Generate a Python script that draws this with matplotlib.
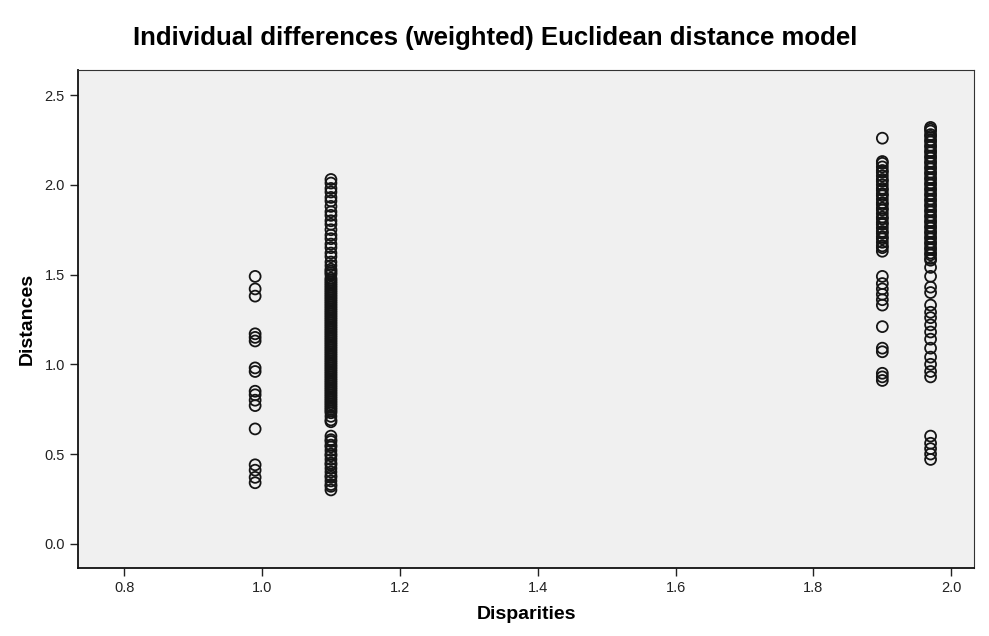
import matplotlib
matplotlib.use("Agg")
import matplotlib.pyplot as plt

plt.rcParams['font.family'] = ['Liberation Sans', 'DejaVu Sans']

# Disparity levels and the distances observed at each level
disp_a = 0.99
dist_a = [1.49, 1.42, 1.38, 1.17, 1.15, 1.13, 0.98, 0.96, 0.85, 0.83, 0.80,
          0.77, 0.64, 0.44, 0.41, 0.37, 0.34]

disp_b = 1.10
dist_b = [2.03, 2.01, 1.98, 1.96, 1.93, 1.91, 1.88, 1.85, 1.83, 1.80, 1.78,
          1.75, 1.72, 1.70, 1.67, 1.65, 1.62, 1.60, 1.57, 1.55, 1.53, 1.52,
          1.51, 1.50, 1.48, 1.47, 1.46, 1.45, 1.44, 1.43, 1.42, 1.41, 1.40,
          1.39, 1.38, 1.37, 1.36, 1.35, 1.34, 1.33, 1.32, 1.31, 1.30, 1.29,
          1.28, 1.27, 1.26, 1.25, 1.24, 1.23, 1.22, 1.21, 1.20, 1.19, 1.18,
          1.17, 1.16, 1.15, 1.14, 1.13, 1.12, 1.11, 1.10, 1.09, 1.08, 1.07,
          1.06, 1.05, 1.04, 1.03, 1.02, 1.01, 1.00, 0.99, 0.98, 0.97, 0.96,
          0.95, 0.94, 0.93, 0.92, 0.91, 0.90, 0.89, 0.88, 0.87, 0.86, 0.85,
          0.84, 0.83, 0.82, 0.81, 0.80, 0.79, 0.78, 0.77, 0.76, 0.75, 0.74,
          0.73, 0.71, 0.69, 0.68,
          0.60, 0.58, 0.57, 0.55, 0.54, 0.52, 0.50, 0.49, 0.47, 0.45, 0.44,
          0.42, 0.40, 0.38, 0.37, 0.35, 0.33, 0.32, 0.30]

disp_c = 1.90
dist_c = [2.26, 2.13, 2.12, 2.10, 2.08, 2.07, 2.05, 2.03, 2.02, 2.00, 1.98,
          1.97, 1.95, 1.94, 1.92, 1.90, 1.89, 1.87, 1.86, 1.84, 1.82, 1.81,
          1.79, 1.78, 1.76, 1.74, 1.73, 1.71, 1.70, 1.68, 1.66, 1.65, 1.63,
          1.49, 1.45, 1.42, 1.39, 1.36, 1.33, 1.21, 1.09, 1.07, 0.95, 0.93,
          0.91]

disp_d = 1.97
dist_d = [2.32, 2.31, 2.30, 2.28, 2.27, 2.25, 2.24, 2.22, 2.21, 2.19, 2.18,
          2.16, 2.15, 2.13, 2.12, 2.10, 2.09, 2.07, 2.06, 2.04, 2.03, 2.01,
          2.00, 1.98, 1.97, 1.95, 1.94, 1.92, 1.91, 1.89, 1.88, 1.86, 1.85,
          1.83, 1.82, 1.80, 1.79, 1.77, 1.76, 1.74, 1.73, 1.71, 1.70, 1.68,
          1.67, 1.65, 1.64, 1.62, 1.61, 1.59, 1.58, 1.54, 1.49, 1.43, 1.40,
          1.33, 1.29, 1.26, 1.22, 1.18, 1.14, 1.09, 1.04, 1.00, 0.96, 0.93,
          0.60, 0.56, 0.53, 0.50, 0.47]

x_ticks = [0.8, 1.0, 1.2, 1.4, 1.6, 1.8, 2.0]
y_ticks = [0.0, 0.5, 1.0, 1.5, 2.0, 2.5]

fig = plt.figure(figsize=(9.89, 6.36), dpi=100)
ax = fig.add_axes([78 / 989, 1 - 568 / 636, (974 - 78) / 989, (568 - 70) / 636])
ax.set_facecolor('#f0f0f0')

for xv, ys in [(disp_a, dist_a), (disp_b, dist_b), (disp_c, dist_c), (disp_d, dist_d)]:
    ax.scatter([xv] * len(ys), ys, s=62, facecolors='none', edgecolors='#151515',
               linewidths=1.3, zorder=3)

ax.set_xlim(0.733, 2.033)
ax.set_ylim(-0.135, 2.64)
ax.set_xticks(x_ticks)
ax.set_xticklabels([f"{v:.1f}" for v in x_ticks])
ax.set_yticks(y_ticks)
ax.set_yticklabels([f"{v:.1f}" for v in y_ticks])
ax.tick_params(direction='out', length=6, width=1, labelsize=10.5, colors='#222222')

for side in ['top', 'right']:
    ax.spines[side].set_color('#333333')
    ax.spines[side].set_linewidth(0.8)
for side in ['left', 'bottom']:
    ax.spines[side].set_color('#111111')
    ax.spines[side].set_linewidth(1.3)

ax.set_xlabel('Disparities', fontsize=14, fontweight='bold', labelpad=8)
ax.set_ylabel('Distances', fontsize=14, fontweight='bold', labelpad=6)
fig.text(495 / 989, 1 - 38 / 636, 'Individual differences (weighted) Euclidean distance model',
         ha='center', va='center', fontsize=18.5, fontweight='bold')

fig.savefig('out.png', dpi=100)
